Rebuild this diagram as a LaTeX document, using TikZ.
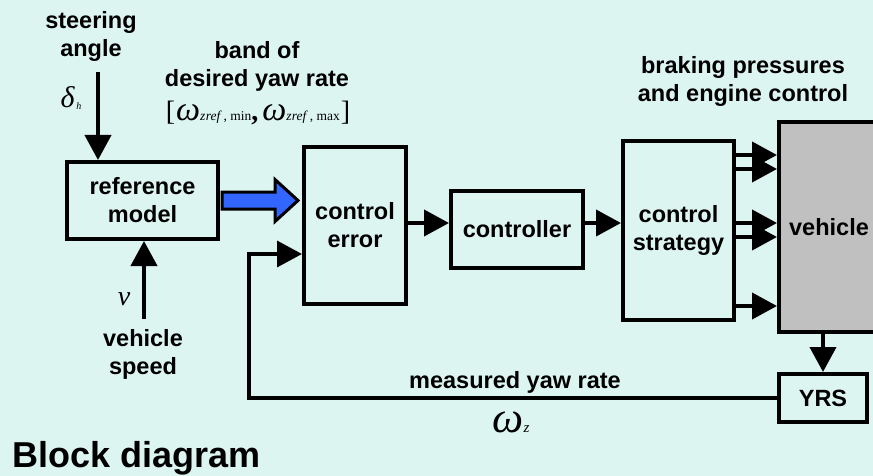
\documentclass[tikz,border=0pt]{standalone}
\usepackage{fontspec}
\setmainfont{Liberation Sans}
\newfontfamily\seriffont{Liberation Serif}
\usetikzlibrary{arrows.meta,calc}
\definecolor{bgcol}{RGB}{221,245,241}
\definecolor{arrowblue}{RGB}{51,102,255}
\definecolor{vehgray}{RGB}{192,192,192}
\newcommand{\omsub}[1]{{\fontsize{34}{34}\selectfont\itshape ω}{\fontsize{13.5}{13.5}\selectfont\itshape z\kern0.3pt ref\upshape\ , #1}}
\begin{document}
\begin{tikzpicture}[x=1pt,y=-1pt,
  lbl/.style={font=\fontsize{23.5}{28}\selectfont\bfseries, inner sep=0pt, align=center},
  blk/.style={draw, line width=4pt, inner sep=0pt, align=center, font=\fontsize{23.5}{28}\selectfont\bfseries},
  arr/.style={line width=4pt, -{Triangle[length=25pt,width=26pt]}},
  fbline/.style={line width=3.5pt, -{Triangle[length=25pt,width=26pt]}},
  barrow/.style={draw=black, line width=3pt, fill=arrowblue, line join=miter},
  mathlbl/.style={inner sep=0pt}
]
\useasboundingbox (0,0) rectangle (873,476);
\clip (0,0) rectangle (873,476);
\fill[bgcol] (0,0) rectangle (873,476);

% blocks
\node[blk, minimum width=151pt, minimum height=77pt] (ref) at (142.5,200.5) {reference\\model};
\node[blk, minimum width=102pt, minimum height=157pt] (err) at (355,225.5) {control\\error};
\node[blk, minimum width=132pt, minimum height=77pt] (ctrl) at (517,229.5) {controller};
\node[blk, minimum width=111pt, minimum height=179pt] (strat) at (678.5,230.5) {control\\strategy};
\node[blk, fill=vehgray, minimum width=100pt, minimum height=210pt] (veh) at (829,227) {vehicle};
\node[blk, minimum width=88pt, minimum height=48pt] (yrs) at (823,398) {YRS};

% labels
\node[lbl, anchor=north] (steer) at (91,11) {steering\\angle};
\node[lbl, anchor=north] (band) at (257,41) {band of\\desired yaw rate};
\node[lbl, anchor=north] (brake) at (743,56) {braking pressures\\and engine control};
\node[lbl, anchor=north] (vspeed) at (143,329) {vehicle\\speed};
\node[lbl, anchor=base] (meas) at (515,388) {measured yaw rate};
\node[anchor=base west, inner sep=0pt, font=\fontsize{36}{40}\selectfont\bfseries] (title) at (12.5,467) {Block diagram};

% math labels
\node[mathlbl, anchor=base] (delta) at (71,108) {\seriffont\itshape\fontsize{30}{30}\selectfont δ\kern2pt\raisebox{-2pt}{\fontsize{10}{10}\selectfont h}};
\node[mathlbl, anchor=base] (vsym) at (124,305) {\seriffont\itshape\fontsize{28}{28}\selectfont v};
\node[mathlbl, anchor=base] (bandf) at (258,121) {\seriffont\fontsize{28}{28}\selectfont [\kern1pt\omsub{min}{\fontsize{28}{28}\selectfont\bfseries,}\kern4pt\omsub{max}\kern1pt]};
\node[mathlbl, anchor=base] (omz) at (511,432) {\seriffont\itshape\fontsize{44}{44}\selectfont ω{\fontsize{15}{15}\selectfont z}};

% connectors
\coordinate (sTop) at (98,72);
\draw[arr] (sTop) -- (sTop |- ref.north);
\coordinate (vBot) at (144,319);
\draw[arr] (vBot) -- (vBot |- ref.south);

\draw[barrow] ($(ref.east)+(2,-8.5)$) -- ($(err.west |- ref.east)+(-27,-8.5)$) -- ++(0,-12.5)
  -- ($(err.west |- ref.east)+(-4,0)$) -- ($(err.west |- ref.east)+(-27,21)$) -- ++(0,-12.5)
  -- ($(ref.east)+(2,8.5)$) -- cycle;

\coordinate (yA) at (0,223);
\draw[arr] (err.east |- yA) -- (ctrl.west |- yA);
\draw[arr] (ctrl.east |- yA) -- (strat.west |- yA);

\foreach \yy/\nm in {155/a,169/b,223/c,237/d,306/e}{
  \coordinate (out\nm) at (0,\yy);
  \draw[arr] ($(strat.east |- out\nm)+(-4,0)$) -- (veh.west |- out\nm);
}

\draw[arr] (yrs.north |- veh.south) -- (yrs.north);

\coordinate (fbx) at (249,0);
\coordinate (fbIn) at ($(err.west)+(0,28.5)$);
\draw[fbline] (yrs.west) -- (fbx |- yrs.west) -- (fbx |- fbIn) -- (fbIn);
\end{tikzpicture}
\end{document}
